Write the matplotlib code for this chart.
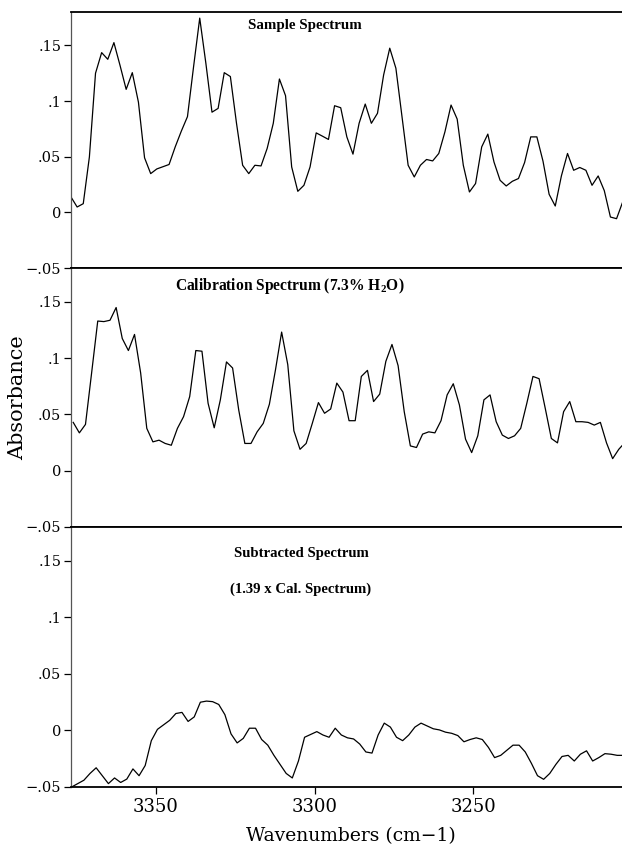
import numpy as np
import matplotlib
matplotlib.use("Agg")
import matplotlib.pyplot as plt

# ---- data ----
step = 1.93  # cm-1 sampling interval
n_points = 91
wn_sample = 3376.7 - step * np.arange(n_points)
wn_calib = 3376.0 - step * np.arange(n_points)
wn_sub = 3376.5 - step * np.arange(n_points)

sample = [0.0138, 0.0048, 0.0078, 0.0498, 0.125, 0.1435, 0.1375, 0.1525, 0.132, 0.1105,
          0.1255, 0.099, 0.049, 0.0348, 0.039, 0.041, 0.043, 0.0588, 0.073, 0.086,
          0.131, 0.1745, 0.134, 0.090, 0.0934, 0.1255, 0.122, 0.080, 0.0423, 0.0348,
          0.0423, 0.0417, 0.0574, 0.080, 0.1198, 0.1048, 0.0408, 0.0189, 0.0243, 0.0408,
          0.0714, 0.0685, 0.0655, 0.0958, 0.094, 0.0678, 0.0523, 0.080, 0.0973, 0.080,
          0.089, 0.1234, 0.1475, 0.1295, 0.0859, 0.0423, 0.0318, 0.0423, 0.0475, 0.0462,
          0.0529, 0.0723, 0.0964, 0.0838, 0.0423, 0.0183, 0.0259, 0.0588, 0.0703, 0.0453,
          0.0288, 0.0237, 0.0279, 0.0304, 0.0448, 0.0678, 0.0678, 0.046, 0.0162, 0.0057,
          0.0327, 0.0529, 0.0378, 0.0403, 0.0378, 0.0243, 0.0327, 0.0195, -0.0042, -0.0057,
          0.0093]

calibration = [0.0429, 0.0336, 0.0411, 0.0868, 0.1329, 0.1324, 0.1336, 0.1449, 0.1174, 0.1067,
               0.121, 0.0868, 0.0376, 0.0256, 0.0271, 0.0242, 0.0226, 0.0376, 0.048, 0.0658,
               0.1067, 0.1061, 0.0599, 0.0381, 0.0629, 0.0966, 0.0912, 0.0539, 0.0242, 0.0242,
               0.0345, 0.042, 0.059, 0.0897, 0.1231, 0.0942, 0.0354, 0.019, 0.0242, 0.042,
               0.0605, 0.051, 0.0548, 0.0778, 0.0698, 0.0444, 0.0444, 0.0837, 0.0891, 0.0614,
               0.068, 0.0971, 0.1121, 0.0933, 0.0524, 0.022, 0.0206, 0.0325, 0.0345, 0.0336,
               0.0444, 0.0673, 0.0772, 0.0584, 0.028, 0.0161, 0.031, 0.0629, 0.0673, 0.0435,
               0.0316, 0.0286, 0.031, 0.0376, 0.0599, 0.0837, 0.0817, 0.0555, 0.0286, 0.0247,
               0.0524, 0.0614, 0.0435, 0.0435, 0.0429, 0.0405, 0.0429, 0.0247, 0.0107, 0.019,
               0.025]

subtracted = [-0.050, -0.047, -0.044, -0.038, -0.033, -0.040, -0.047, -0.042, -0.046, -0.043,
              -0.034, -0.040, -0.031, -0.009, 0.001, 0.005, 0.009, 0.015, 0.016, 0.008,
              0.012, 0.025, 0.026, 0.0255, 0.023, 0.014, -0.003, -0.011, -0.007, 0.002,
              0.002, -0.008, -0.013, -0.022, -0.030, -0.038, -0.042, -0.027, -0.006, -0.0035,
              -0.001, -0.004, -0.006, 0.002, -0.004, -0.0065, -0.0075, -0.012, -0.019, -0.020,
              -0.004, 0.0065, 0.003, -0.006, -0.009, -0.004, 0.003, 0.0065, 0.004, 0.0015,
              0.0005, -0.0015, -0.0025, -0.0045, -0.010, -0.008, -0.0065, -0.008, -0.015, -0.024,
              -0.022, -0.0175, -0.013, -0.013, -0.019, -0.029, -0.040, -0.0432, -0.038, -0.030,
              -0.023, -0.022, -0.027, -0.021, -0.018, -0.027, -0.024, -0.0205, -0.021, -0.022,
              -0.022]

y_ticks = [-0.05, 0, 0.05, 0.1, 0.15]
y_tick_labels = ["\u2212.05", "0", ".05", ".1", ".15"]
x_ticks = [3350, 3300, 3250]
x_tick_labels = ["3350", "3300", "3250"]

panel_titles = [["Sample Spectrum"],
                [r"Calibration Spectrum (7.3% H$_\mathbf{2}$O)"],
                ["Subtracted Spectrum", "(1.39 x Cal. Spectrum)"]]

# ---- layout ----
W, H = 622, 850
fig = plt.figure(figsize=(W / 100, H / 100), dpi=100)
plt.rcParams["mathtext.fontset"] = "custom"
plt.rcParams["mathtext.bf"] = "Liberation Serif:bold"
plt.rcParams["mathtext.rm"] = "Liberation Serif:bold"

left_px, right_px = 71, 623
panel_px = [(12, 268), (268, 527), (527, 787)]
xlim = (3376.7, 3202.9)
ylim = (-0.05, 0.18)

series = [(wn_sample, sample), (wn_calib, calibration), (wn_sub, subtracted)]
title_pos = [[(305, 25)], [(290, 286)], [(301, 553), (301, 589)]]
title_size = [10.8, 11.2, 10.6]

axes = []
for k, (top, bot) in enumerate(panel_px):
    ax = fig.add_axes([left_px / W, 1 - bot / H, (right_px - left_px) / W, (bot - top) / H])
    x, y = series[k]
    ax.plot(x, y, color="black", lw=0.9)
    ax.set_xlim(*xlim)
    ax.set_ylim(*ylim)
    ax.set_yticks(y_ticks)
    ax.set_yticklabels(y_tick_labels, family="DejaVu Serif", fontsize=10.5)
    ax.tick_params(axis="y", direction="out", length=5, width=0.9, pad=2)
    for s in ["top", "bottom"]:
        ax.spines[s].set_linewidth(1.3)
    ax.spines["left"].set_linewidth(0.9)
    ax.spines["left"].set_color("#555555")
    ax.spines["right"].set_visible(False)
    if k < 2:
        ax.set_xticks([])
    else:
        ax.set_xticks(x_ticks)
        ax.set_xticklabels(x_tick_labels, family="DejaVu Serif", fontsize=13)
        ax.tick_params(axis="x", direction="out", length=5, width=0.9, pad=3)
    for txt, (px, py) in zip(panel_titles[k], title_pos[k]):
        fig.text(px / W, 1 - py / H, txt, ha="center", va="center",
                 family="Liberation Serif", fontweight="bold", fontsize=title_size[k])
    axes.append(ax)

fig.text(18 / W, 1 - 398 / H, "Absorbance", rotation=90, ha="center", va="center",
         family="DejaVu Serif", fontsize=15)
fig.text(351 / W, 1 - 836 / H, "Wavenumbers (cm\u22121)", ha="center", va="center",
         family="DejaVu Serif", fontsize=13.5)

fig.savefig("out.png", dpi=100)
